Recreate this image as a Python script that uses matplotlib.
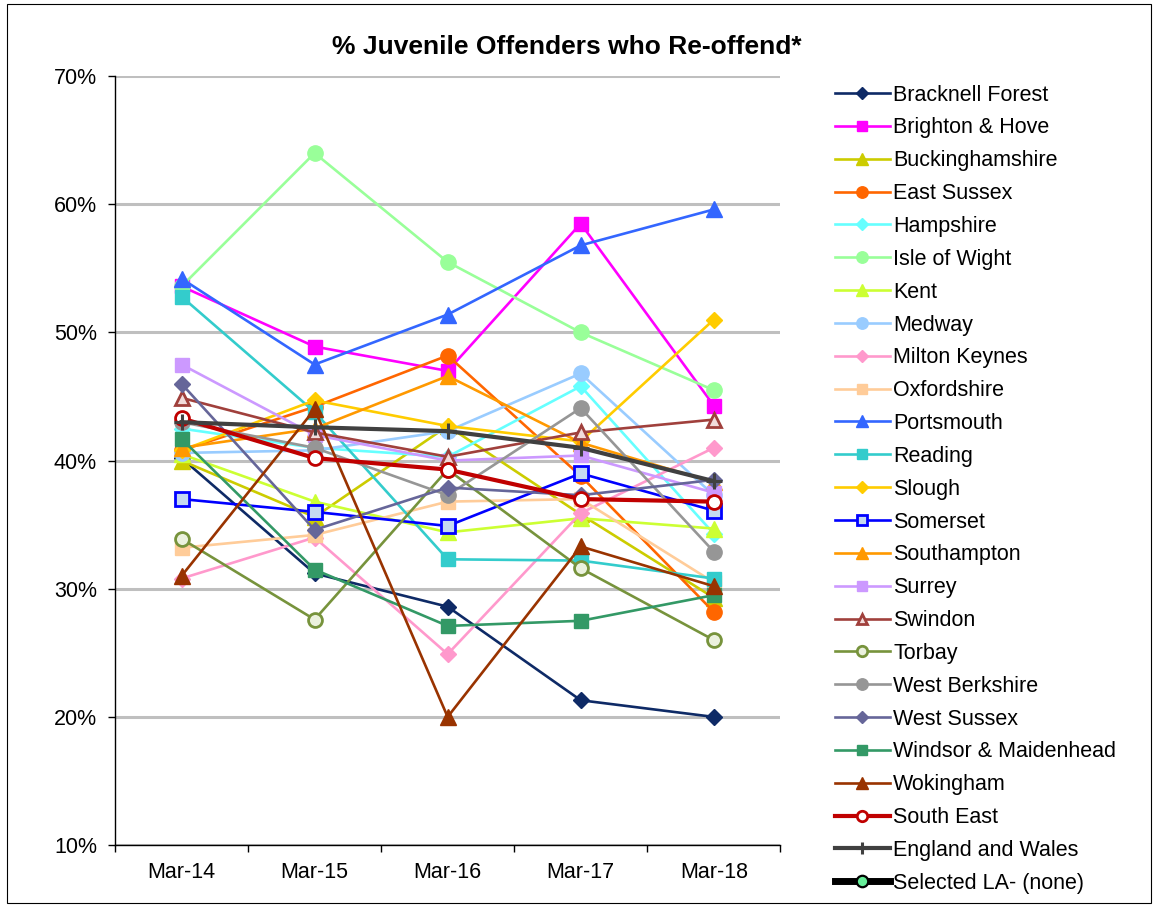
import matplotlib
matplotlib.use("Agg")
import matplotlib.pyplot as plt
from matplotlib.lines import Line2D
from matplotlib.patches import Rectangle
from matplotlib.ticker import FixedLocator, PercentFormatter

plt.rcParams['font.family'] = ['Liberation Sans', 'DejaVu Sans']

periods = ["Mar-14", "Mar-15", "Mar-16", "Mar-17", "Mar-18"]

bracknell_forest = [40.2, 31.2, 28.6, 21.3, 20.0]
brighton_hove = [53.6, 48.9, 47.0, 58.5, 44.3]
buckinghamshire = [40.0, 35.6, 42.7, 35.8, 29.3]
east_sussex = [40.8, 44.2, 48.2, 38.8, 28.2]
hampshire = [42.5, 41.0, 40.3, 45.8, 34.3]
isle_of_wight = [53.6, 64.0, 55.5, 50.0, 45.5]
kent = [40.5, 36.8, 34.4, 35.5, 34.7]
medway = [40.6, 40.8, 42.3, 46.8, 37.3]
milton_keynes = [30.8, 34.0, 24.9, 35.9, 41.0]
oxfordshire = [33.2, 34.2, 36.8, 37.0, 30.5]
portsmouth = [54.2, 47.5, 51.4, 56.8, 59.6]
reading = [52.8, 43.8, 32.3, 32.2, 30.8]
slough = [40.8, 44.7, 42.7, 41.5, 51.0]
somerset = [37.0, 36.0, 34.9, 39.0, 36.1]
southampton = [41.0, 42.5, 46.6, 41.4, 38.3]
surrey = [47.5, 42.0, 40.0, 40.4, 37.5]
swindon = [44.9, 42.2, 40.3, 42.2, 43.2]
torbay = [33.9, 27.6, 39.3, 31.6, 26.0]
west_berkshire = [43.0, 41.0, 37.3, 44.1, 32.9]
west_sussex = [46.0, 34.6, 37.9, 37.3, 38.5]
windsor_maidenhead = [41.7, 31.5, 27.1, 27.5, 29.5]
wokingham = [31.0, 44.0, 20.0, 33.3, 30.2]
south_east = [43.3, 40.2, 39.3, 37.0, 36.8]
england_wales = [43.0, 42.6, 42.3, 41.0, 38.4]

# (label, values, colour, marker, marker face, marker size, line width)
series = [
    ("Bracknell Forest", bracknell_forest, "#0E2A66", "D", "#0E2A66", 8.5, 1.9),
    ("Brighton & Hove", brighton_hove, "#FF00FF", "s", "#FF00FF", 10.5, 1.9),
    ("Buckinghamshire", buckinghamshire, "#CCCC00", "^", "#CCCC00", 11, 1.9),
    ("East Sussex", east_sussex, "#FF6600", "o", "#FF6600", 11, 1.9),
    ("Hampshire", hampshire, "#66FFFF", "D", "#66FFFF", 8.5, 1.9),
    ("Isle of Wight", isle_of_wight, "#99FF99", "o", "#99FF99", 11, 1.9),
    ("Kent", kent, "#CCFF33", "^", "#CCFF33", 11, 1.9),
    ("Medway", medway, "#99CCFF", "o", "#99CCFF", 11, 1.9),
    ("Milton Keynes", milton_keynes, "#FF99CC", "D", "#FF99CC", 8.5, 1.9),
    ("Oxfordshire", oxfordshire, "#FFCC99", "s", "#FFCC99", 10.5, 1.9),
    ("Portsmouth", portsmouth, "#3366FF", "^", "#3366FF", 11, 1.9),
    ("Reading", reading, "#33CCCC", "s", "#33CCCC", 10.5, 1.9),
    ("Slough", slough, "#FFCC00", "D", "#FFCC00", 8.5, 1.9),
    ("Somerset", somerset, "#0000FF", "s", "#C5D9F1", 10.5, 1.9),
    ("Southampton", southampton, "#FF9900", "^", "#FF9900", 11, 1.9),
    ("Surrey", surrey, "#CC99FF", "s", "#CC99FF", 10.5, 1.9),
    ("Swindon", swindon, "#A0403C", "^", "#F2DCDB", 10.5, 1.9),
    ("Torbay", torbay, "#77933C", "o", "#EBF1DE", 10, 1.9),
    ("West Berkshire", west_berkshire, "#969696", "o", "#969696", 11, 1.9),
    ("West Sussex", west_sussex, "#666699", "D", "#666699", 8.5, 1.9),
    ("Windsor & Maidenhead", windsor_maidenhead, "#339966", "s", "#339966", 10.5, 1.9),
    ("Wokingham", wokingham, "#993300", "^", "#993300", 11, 1.9),
    ("South East", south_east, "#C00000", "o", "#FFFFFF", 10, 3.0),
    ("England and Wales", england_wales, "#404040", "+", "#404040", 11, 3.0),
]

fig = plt.figure(figsize=(11.56, 9.07), dpi=100)
fig.patch.set_facecolor("white")
fig.patches.append(Rectangle((0.006, 0.004), 0.990, 0.992, transform=fig.transFigure,
                             fill=False, edgecolor="#000000", linewidth=0.8))

ax = fig.add_axes([0.0995, 0.0683, 0.5755, 0.8477])
x = list(range(len(periods)))

for label, vals, col, mk, mface, ms, lw in series:
    mew = 2.0 if mface != col else 1.0
    if mk == "+":
        mew = 2.2
    ax.plot(x, vals, color=col, linewidth=lw, marker=mk, markersize=ms,
            markerfacecolor=mface, markeredgecolor=col, markeredgewidth=mew,
            label=label, solid_joinstyle="miter")

ax.set_xlim(-0.5, len(periods) - 0.5)
ax.set_ylim(10, 70)
ax.yaxis.set_major_locator(FixedLocator([10, 20, 30, 40, 50, 60, 70]))
ax.yaxis.set_major_formatter(PercentFormatter(decimals=0))
ax.set_xticks(x)
ax.set_xticklabels(periods)
ax.xaxis.set_minor_locator(FixedLocator([i - 0.5 for i in range(len(periods) + 1)]))
ax.tick_params(axis="x", which="major", length=0, labelsize=15.5, pad=12)
ax.tick_params(axis="x", which="minor", length=5, width=1, direction="out")
ax.tick_params(axis="y", which="major", length=5, width=1, direction="out",
               labelsize=15.5, pad=8)
ax.grid(axis="y", color="#BFBFBF", linewidth=2.2)
ax.set_axisbelow(True)
for side in ("top", "right"):
    ax.spines[side].set_visible(False)
for side in ("left", "bottom"):
    ax.spines[side].set_color("#000000")
    ax.spines[side].set_linewidth(1.0)

fig.text(0.4905, 0.948, "% Juvenile Offenders who Re-offend*", ha="center", va="center",
         fontsize=19, fontweight="bold")

handles, labels = ax.get_legend_handles_labels()
handles.append(Line2D([], [], color="#000000", linewidth=5, marker="o", markersize=11,
                      markerfacecolor="#66EE99", markeredgecolor="#000000",
                      markeredgewidth=1.6))
labels.append("Selected LA- (none)")
leg = fig.legend(handles, labels, loc="upper left", bbox_to_anchor=(0.722, 0.9067),
                 frameon=False, fontsize=15.5, handlelength=2.58, handletextpad=0.14,
                 labelspacing=0.55, borderaxespad=0, borderpad=0, markerscale=0.75)

fig.savefig("out.png", dpi=100, facecolor="white")
